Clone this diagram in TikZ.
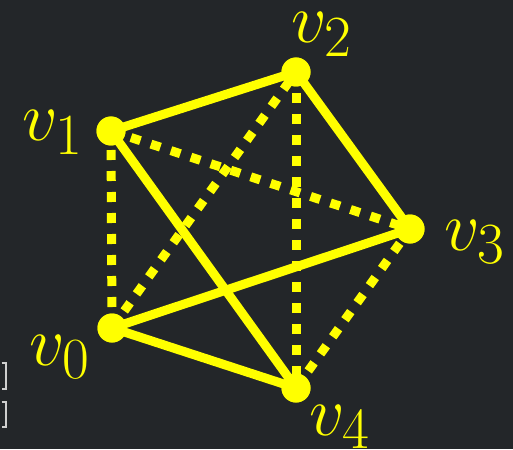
\documentclass[tikz,border=0pt]{standalone}
\definecolor{bg}{HTML}{232629}
\definecolor{vy}{HTML}{FFFF00}
\definecolor{br}{HTML}{CFCFCF}
\begin{document}
\begin{tikzpicture}[x=1pt,y=-1pt,
  solidedge/.style={draw=vy,line width=9pt},
  dotedge/.style={draw=vy,line width=9pt,dash pattern=on 10pt off 11pt},
  vert/.style={circle,fill=vy,minimum size=29pt,inner sep=0pt},
  vlabel/.style={text=vy,inner sep=0pt,anchor=base west,font=\Huge,scale=2.81},
  brk/.style={draw=br,line width=2.2pt}]
\fill[bg] (0,0) rectangle (513,449);
\useasboundingbox (0,0) rectangle (513,449);
\node[vert] (v0) at (112,328) {};
\node[vert] (v1) at (111,131) {};
\node[vert] (v2) at (296,72) {};
\node[vert] (v3) at (410,229) {};
\node[vert] (v4) at (296,388) {};
\draw[dotedge] (v0.center) -- (v1.center);
\draw[dotedge] (v1.center) -- (v3.center);
\draw[dotedge] (v0.center) -- (v2.center);
\draw[dotedge] (v2.center) -- (v4.center);
\draw[dotedge] (v4.center) -- (v3.center);
\draw[solidedge] (v1.center) -- (v2.center);
\draw[solidedge] (v2.center) -- (v3.center);
\draw[solidedge] (v3.center) -- (v0.center);
\draw[solidedge] (v0.center) -- (v4.center);
\draw[solidedge] (v4.center) -- (v1.center);
\foreach \n in {v0,v1,v2,v3,v4} \fill[vy] (\n) circle (14.5pt);
\node[vlabel] (l0) at (29,365) {$v_0$};
\node[vlabel] (l1) at (22,141) {$v_1$};
\node[vlabel] (l2) at (291,43) {$v_2$};
\node[vlabel] (l3) at (444,250) {$v_3$};
\node[vlabel] (l4) at (309,435) {$v_4$};
\draw[brk] (1.5,363) -- (6,363) -- (6,389) -- (1.5,389);
\draw[brk] (1.5,402) -- (6,402) -- (6,427) -- (1.5,427);
\end{tikzpicture}
\end{document}
